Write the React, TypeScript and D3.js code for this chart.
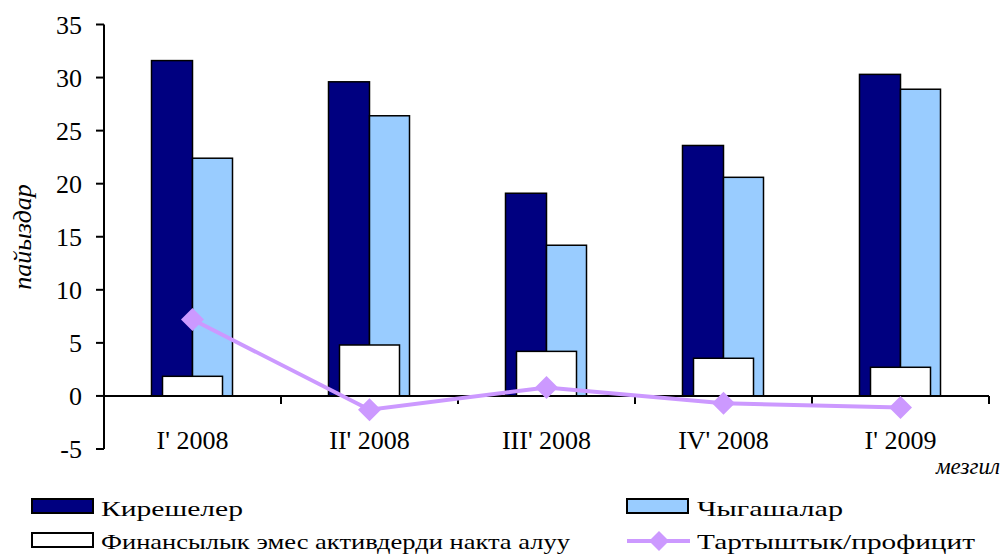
import React from "react";
import * as d3 from "d3";

const categories = ["I' 2008", "II' 2008", "III' 2008", "IV' 2008", "I' 2009"];
const revenues = [31.6, 29.6, 19.1, 23.6, 30.3];
const expenditures = [22.4, 26.4, 14.2, 20.6, 28.9];
const netAcquisition = [1.85, 4.8, 4.2, 3.55, 2.7];
const balance = [7.2, -1.3, 0.8, -0.7, -1.1];
const yTicks = [-5, 0, 5, 10, 15, 20, 25, 30, 35];

const seriesNames = [
  "Кирешелер",
  "Чыгашалар",
  "Финансылык эмес активдерди накта алуу",
  "Тартыштык/профицит",
];

const W = 1003;
const H = 554;
const left = 104;
const right = 989;
const top = 24.5;
const bottom = 449;
const FS = { fontFamily: '"Liberation Serif"' };

export default function App() {
  const x = d3.scaleBand<string>().domain(categories).range([left, right]);
  const y = d3.scaleLinear().domain([-5, 35]).range([bottom, top]);
  const bw = 41;
  const ww = 60;
  const centers = categories.map((c) => (x(c) as number) + x.bandwidth() / 2);
  const line = d3
    .line<number>()
    .x((_, i) => centers[i])
    .y((d) => y(d));
  const diamond = (cx: number, cy: number, r: number) =>
    `M${cx},${cy - r}L${cx + r},${cy}L${cx},${cy + r}L${cx - r},${cy}Z`;
  const purple = "#CC99FF";

  return (
    <svg
      width={W}
      height={H}
      style={{ position: "absolute", left: 0, top: 0, background: "#fff" }}
    >
      {/* bars */}
      {categories.map((c, i) => {
        const cx = centers[i];
        return (
          <g key={c}>
            <rect
              x={cx - bw}
              y={y(revenues[i])}
              width={bw}
              height={y(0) - y(revenues[i])}
              fill="#000080"
              stroke="#000"
              strokeWidth={1.5}
            />
            <rect
              x={cx}
              y={y(expenditures[i])}
              width={bw - 1}
              height={y(0) - y(expenditures[i])}
              fill="#99CCFF"
              stroke="#000"
              strokeWidth={1.5}
            />
            <rect
              x={cx - ww / 2}
              y={y(netAcquisition[i])}
              width={ww}
              height={y(0) - y(netAcquisition[i])}
              fill="#fff"
              stroke="#000"
              strokeWidth={1.5}
            />
          </g>
        );
      })}

      {/* axes */}
      <line x1={left} x2={left} y1={top} y2={bottom} stroke="#000" strokeWidth={2} />
      {yTicks.map((t) => (
        <g key={t}>
          <line x1={left - 8} x2={left} y1={y(t)} y2={y(t)} stroke="#000" strokeWidth={2} />
          <text x={82} y={y(t)} dy="0.35em" textAnchor="end" fontSize={26} fill="#000" style={FS}>
            {t}
          </text>
        </g>
      ))}
      <line x1={left} x2={right} y1={y(0)} y2={y(0)} stroke="#000" strokeWidth={2} />
      {d3.range(categories.length + 1).map((i) => {
        const xx = left + i * x.bandwidth();
        return (
          <line key={i} x1={xx} x2={xx} y1={y(0)} y2={y(0) + 8} stroke="#000" strokeWidth={2} />
        );
      })}
      {categories.map((c, i) => (
        <text key={c} x={centers[i]} y={449} textAnchor="middle" fontSize={26} fill="#000" style={FS}>
          {c}
        </text>
      ))}

      {/* line */}
      <path d={line(balance) || ""} fill="none" stroke={purple} strokeWidth={4} />
      {balance.map((v, i) => (
        <path key={i} d={diamond(centers[i], y(v), 11.5)} fill={purple} />
      ))}

      {/* axis titles */}
      <text
        transform={`translate(31,237) rotate(-90)`}
        textAnchor="middle"
        fontSize={26}
        fontStyle="italic"
        fill="#000"
        style={FS}
      >
        пайыздар
      </text>
      <text x={1000} y={474} textAnchor="end" fontSize={23} fontStyle="italic" fill="#000" style={FS}>
        мезгил
      </text>

      {/* legend */}
      <rect x={32} y={499} width={61} height={14} fill="#000080" stroke="#000" strokeWidth={2} />
      <text x={101} y={516} fontSize={22} fill="#000" style={FS} textLength={142} lengthAdjust="spacingAndGlyphs">
        {seriesNames[0]}
      </text>
      <rect x={627} y={499} width={61} height={14} fill="#99CCFF" stroke="#000" strokeWidth={2} />
      <text x={697} y={516} fontSize={22} fill="#000" style={FS} textLength={146} lengthAdjust="spacingAndGlyphs">
        {seriesNames[1]}
      </text>
      <rect x={32} y={533} width={61} height={14} fill="#fff" stroke="#000" strokeWidth={2} />
      <text x={101} y={549} fontSize={22} fill="#000" style={FS} textLength={469} lengthAdjust="spacingAndGlyphs">
        {seriesNames[2]}
      </text>
      <line x1={627} x2={690} y1={541} y2={541} stroke={purple} strokeWidth={4} />
      <path d={diamond(659, 541, 10)} fill={purple} />
      <text x={697} y={549} fontSize={22} fill="#000" style={FS} textLength={278} lengthAdjust="spacingAndGlyphs">
        {seriesNames[3]}
      </text>
    </svg>
  );
}
